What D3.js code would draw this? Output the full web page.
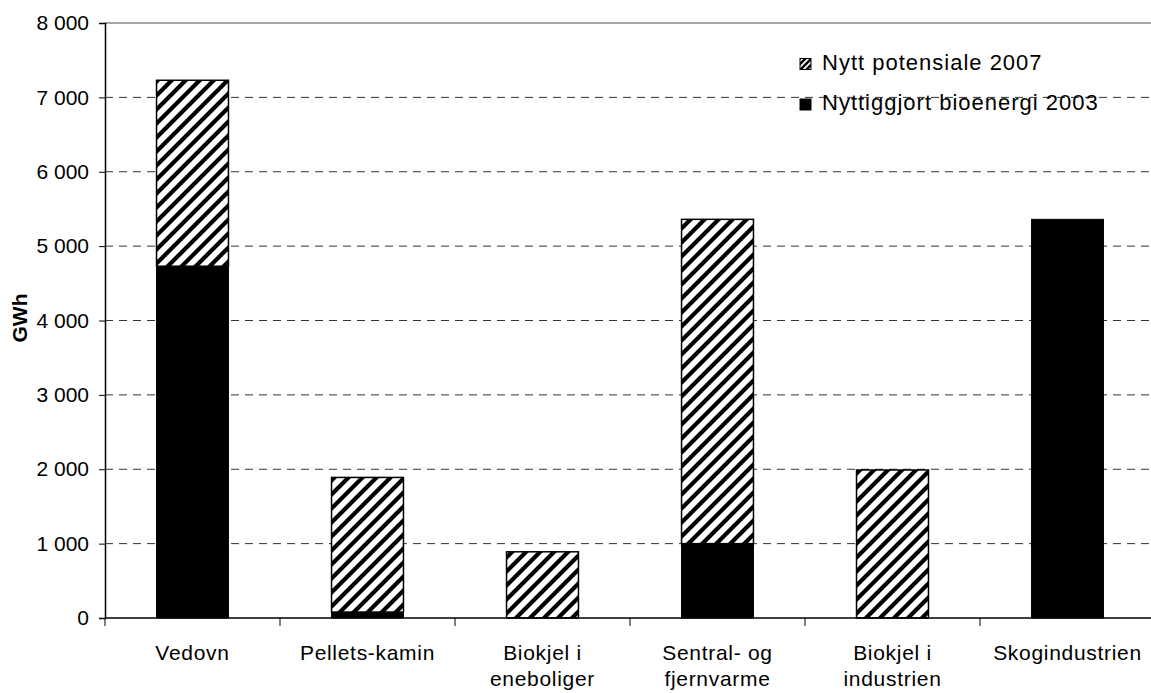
<!DOCTYPE html>
<html><head><meta charset="utf-8">
<script src="https://cdn.jsdelivr.net/npm/d3@7"></script>
<style>body{margin:0;background:#fff}svg{display:block}text{font-family:"Liberation Sans",Arial,sans-serif;fill:#000}</style>
</head><body><svg id="c" width="1151" height="693"></svg>
<script>
const categories = [["Vedovn"],["Pellets-kamin"],["Biokjel i","eneboliger"],["Sentral- og","fjernvarme"],["Biokjel i","industrien"],["Skogindustrien"]];
const used2003 = [4730, 80, 0, 1000, 0, 5360];
const potential2007 = [2500, 1810, 890, 4360, 1990, 0];
const yTicks = [0,1000,2000,3000,4000,5000,6000,7000,8000];
const seriesNames = ["Nytt potensiale 2007","Nyttiggjort bioenergi 2003"];

(function(){
const svg = d3.select("#c");
const mLeft = 105, mTop = 23, mBottom = 618, band = 175;
const x = d3.scaleBand().domain(d3.range(categories.length)).range([mLeft, mLeft + band*categories.length]).paddingInner(0.589).paddingOuter(0.2945);
const y = d3.scaleLinear().domain([0, 8000]).range([mBottom, mTop]);
const fmt = v => v === 0 ? "0" : d3.format(",")(v).replace(/,/g, " ");

const defs = svg.append("defs");
const pat = defs.append("pattern").attr("id","hatch").attr("patternUnits","userSpaceOnUse").attr("width",14).attr("height",14);
pat.append("rect").attr("width",14).attr("height",14).attr("fill","#fff");
pat.append("path").attr("d","M-3.5,3.5 L3.5,-3.5 M0,14 L14,0 M10.5,17.5 L17.5,10.5").attr("stroke","#000").attr("stroke-width",4.2);
const patS = defs.append("pattern").attr("id","hatchS").attr("patternUnits","userSpaceOnUse").attr("width",6).attr("height",6);
patS.append("rect").attr("width",6).attr("height",6).attr("fill","#fff");
patS.append("path").attr("d","M-1.5,1.5 L1.5,-1.5 M0,6 L6,0 M4.5,7.5 L7.5,4.5").attr("stroke","#000").attr("stroke-width",2.5);

// grid
svg.append("g").selectAll("line").data(yTicks.filter(t=>t>0 && t<8000)).join("line")
  .attr("x1",mLeft).attr("x2",1151).attr("y1",d=>y(d)).attr("y2",d=>y(d))
  .attr("stroke","#333").attr("stroke-dasharray","8,6").attr("stroke-width",1);
svg.append("line").attr("x1",mLeft).attr("x2",1151).attr("y1",y(8000)).attr("y2",y(8000)).attr("stroke","#888").attr("stroke-width",1.5);

// bars
const g = svg.append("g");
categories.forEach((c,i)=>{
  if (used2003[i] > 0) g.append("rect").attr("x",x(i)).attr("width",x.bandwidth())
    .attr("y",y(used2003[i])).attr("height",y(0)-y(used2003[i])).attr("fill","#000").attr("stroke","#000");
  if (potential2007[i] > 0) g.append("rect").attr("x",x(i)).attr("width",x.bandwidth())
    .attr("y",y(used2003[i]+potential2007[i])).attr("height",y(used2003[i])-y(used2003[i]+potential2007[i]))
    .attr("fill","url(#hatch)").attr("stroke","#000").attr("stroke-width",1.5);
});

// y axis
const ya = svg.append("g").attr("transform",`translate(${mLeft},0)`)
  .call(d3.axisLeft(y).tickValues(yTicks).tickFormat(fmt).tickSize(6).tickPadding(10));
ya.select(".domain").attr("stroke","#000").attr("stroke-width",1.5);
ya.selectAll("line").attr("stroke","#000");
ya.selectAll("text").style("font-size","21px").attr("font-family","Liberation Sans, Arial, sans-serif");

// x axis
const xa = svg.append("g").attr("transform",`translate(0,${mBottom})`);
xa.append("line").attr("x1",mLeft).attr("x2",1151).attr("stroke","#000").attr("stroke-width",1.5);
xa.selectAll("line.t").data(d3.range(categories.length+1)).join("line").attr("class","t")
  .attr("x1",d=>mLeft+d*band).attr("x2",d=>mLeft+d*band).attr("y1",0).attr("y2",8).attr("stroke","#000");
xa.selectAll("text").data(categories).join("text")
  .attr("x",(d,i)=>x(i)+x.bandwidth()/2).attr("text-anchor","middle").style("font-size","21px").style("letter-spacing","0.7px")
  .each(function(d){
    const cx = d3.select(this).attr("x");
    d3.select(this).selectAll("tspan").data(d).join("tspan")
      .attr("x",cx).attr("y",(t,j)=>42+j*26).text(t=>t);
  });

// y label
svg.append("text").attr("transform","translate(27,318) rotate(-90)").attr("text-anchor","middle")
  .style("font-size","21px").style("font-weight","bold").text("GWh");

// legend
const lg = svg.append("g");
const leg = [{name:seriesNames[0],fill:"url(#hatchS)"},{name:seriesNames[1],fill:"#000"}];
leg.forEach((l,i)=>{
  const yy = 64 + i*40.5;
  lg.append("rect").attr("x",800).attr("y",yy-5.5).attr("width",11).attr("height",11).attr("fill",l.fill).attr("stroke","#000").attr("stroke-width",1);
  lg.append("text").attr("x",822).attr("y",yy+5.5).style("font-size","22px").style("letter-spacing","1px").text(l.name);
});
})();
</script></body></html>
